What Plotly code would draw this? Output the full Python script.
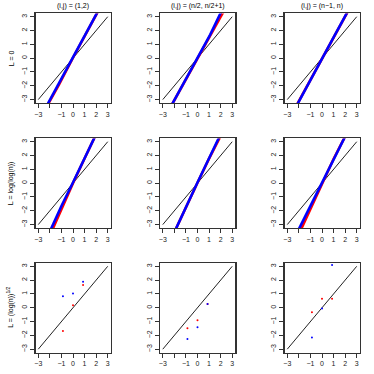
import plotly.graph_objects as go

# ---------------- data ----------------
col_titles = ["(i,j) = (1,2)", "(i,j) = (n/2, n/2+1)", "(i,j) = (n\u22121, n)"]
row_titles = ["L = 0", "L = log(log(n))", "L = (log(n))<sup>1/2</sup>"]

x_tick_vals = [-3, -2, -1, 0, 1, 2, 3]
x_tick_text = ["\u22123", "", "\u22121", "0", "1", "2", "3"]
y_tick_text = ["\u22123", "\u22122", "\u22121", "0", "1", "2", "3"]

ref_x = [-3, 3]
ref_y = [-3, 3]

# Row 1 (L = 0): QQ curves, red drawn below blue
r1c1_red_x = [-2.3, -1.2, 0.0, 1.2, 2.3]
r1c1_red_y = [-3.55, -1.9, 0.03, 1.9, 3.6]
r1c1_blue_x = [-2.3, -1.2, 0.0, 1.2, 2.3]
r1c1_blue_y = [-3.5, -1.8, 0.06, 1.92, 3.62]

r1c2_red_x = [-2.3, -1.1, 0.2, 1.1, 2.3]
r1c2_red_y = [-3.5, -1.7, 0.22, 1.65, 3.45]
r1c2_blue_x = [-2.3, -1.1, 0.2, 1.1, 2.1]
r1c2_blue_y = [-3.5, -1.65, 0.25, 1.7, 3.45]

r1c3_red_x = [-2.2, -1.0, 0.0, 1.0, 2.3]
r1c3_red_y = [-3.42, -1.55, -0.02, 1.48, 3.48]
r1c3_blue_x = [-2.2, -1.0, 0.0, 1.0, 2.3]
r1c3_blue_y = [-3.45, -1.55, 0.0, 1.5, 3.5]

# Row 2 (L = log(log(n)))
r2c1_red_x = [-1.9, -1.0, 0.0, 1.0, 2.0]
r2c1_red_y = [-3.6, -1.85, 0.0, 1.78, 3.55]
r2c1_blue_x = [-2.0, -1.0, 0.0, 1.0, 2.0]
r2c1_blue_y = [-3.5, -1.65, 0.05, 1.8, 3.55]

r2c2_red_x = [-2.0, -1.0, 0.0, 1.0, 2.05]
r2c2_red_y = [-3.55, -1.72, 0.03, 1.78, 3.5]
r2c2_blue_x = [-2.0, -1.0, 0.0, 1.0, 2.0]
r2c2_blue_y = [-3.55, -1.7, 0.05, 1.8, 3.55]

r2c3_red_x = [-1.95, -1.0, 0.0, 1.0, 2.1]
r2c3_red_y = [-3.6, -1.85, 0.0, 1.75, 3.55]
r2c3_blue_x = [-2.1, -1.0, 0.0, 1.0, 2.1]
r2c3_blue_y = [-3.5, -1.65, 0.1, 1.75, 3.55]

# Row 3 (L = (log(n))^{1/2}): few points
r3c1_red_x = [-0.87, 0.0, 0.87]
r3c1_red_y = [-1.68, 0.18, 1.65]
r3c1_blue_x = [-0.87, 0.0, 0.87]
r3c1_blue_y = [0.83, 1.03, 1.89]

r3c2_red_x = [-0.87, 0.0, 0.87]
r3c2_red_y = [-1.48, -0.9, 0.27]
r3c2_blue_x = [-0.87, 0.0, 0.87]
r3c2_blue_y = [-2.26, -1.41, 0.27]

r3c3_red_x = [-0.87, 0.0, 0.87]
r3c3_red_y = [-0.33, 0.66, 0.66]
r3c3_blue_x = [-0.87, 0.0, 0.87]
r3c3_blue_y = [-2.16, -0.06, 3.09]

panels = [
    [(r1c1_red_x, r1c1_red_y, r1c1_blue_x, r1c1_blue_y),
     (r1c2_red_x, r1c2_red_y, r1c2_blue_x, r1c2_blue_y),
     (r1c3_red_x, r1c3_red_y, r1c3_blue_x, r1c3_blue_y)],
    [(r2c1_red_x, r2c1_red_y, r2c1_blue_x, r2c1_blue_y),
     (r2c2_red_x, r2c2_red_y, r2c2_blue_x, r2c2_blue_y),
     (r2c3_red_x, r2c3_red_y, r2c3_blue_x, r2c3_blue_y)],
    [(r3c1_red_x, r3c1_red_y, r3c1_blue_x, r3c1_blue_y),
     (r3c2_red_x, r3c2_red_y, r3c2_blue_x, r3c2_blue_y),
     (r3c3_red_x, r3c3_red_y, r3c3_blue_x, r3c3_blue_y)],
]

# ---------------- layout geometry ----------------
W = H = 374
col_left = [35.5, 160.0, 284.5]
pw = 75.0
row_top = [13.4, 138.4, 263.0]
ph = 89.5
rng = [-3.24, 3.24]
FONT = "Liberation Sans, Arial, sans-serif"
AX = "#333333"
TXT = "#000000"

fig = go.Figure()
layout = dict(
    width=W, height=H, autosize=False,
    margin=dict(l=0, r=0, t=0, b=0),
    paper_bgcolor="white", plot_bgcolor="white",
    showlegend=False, hovermode=False,
    font=dict(family=FONT, size=7, color=TXT),
)
annotations = []

k = 0
for r in range(3):
    for c in range(3):
        k += 1
        xa = "x" if k == 1 else f"x{k}"
        ya = "y" if k == 1 else f"y{k}"
        xd = [col_left[c] / W, (col_left[c] + pw) / W]
        yd = [1 - (row_top[r] + ph) / H, 1 - row_top[r] / H]
        common = dict(range=rng, showgrid=False, zeroline=False,
                      showline=True, mirror=True, linecolor=AX, linewidth=1.5,
                      ticks="outside", ticklen=4, tickwidth=1, tickcolor=AX,
                      tickfont=dict(size=7, color="#222222", family=FONT),
                      tickvals=x_tick_vals, fixedrange=True)
        layout["xaxis" if k == 1 else f"xaxis{k}"] = dict(
            common, domain=xd, anchor=ya, ticktext=x_tick_text, tickangle=0)
        layout["yaxis" if k == 1 else f"yaxis{k}"] = dict(
            common, domain=yd, anchor=xa, ticktext=y_tick_text, tickangle=-90)

        rx, ry, bx, by = panels[r][c]
        fig.add_trace(go.Scatter(x=ref_x, y=ref_y, mode="lines",
                                 line=dict(color="#222222", width=1),
                                 xaxis=xa, yaxis=ya))
        if r < 2:
            fig.add_trace(go.Scatter(x=rx, y=ry, mode="lines",
                                     line=dict(color="#FF0000", width=2.6),
                                     xaxis=xa, yaxis=ya))
            fig.add_trace(go.Scatter(x=bx, y=by, mode="lines",
                                     line=dict(color="#0000FF", width=2.6),
                                     xaxis=xa, yaxis=ya))
        else:
            fig.add_trace(go.Scatter(x=rx, y=ry, mode="markers",
                                     marker=dict(color="#FF0000", size=2),
                                     xaxis=xa, yaxis=ya, cliponaxis=True))
            fig.add_trace(go.Scatter(x=bx, y=by, mode="markers",
                                     marker=dict(color="#0000FF", size=2),
                                     xaxis=xa, yaxis=ya, cliponaxis=True))

for c in range(3):
    annotations.append(dict(text=col_titles[c], xref="paper", yref="paper",
                            x=(col_left[c] + pw / 2) / W, y=1 - 6 / H,
                            xanchor="center", yanchor="middle", showarrow=False,
                            font=dict(size=7, color=TXT, family=FONT)))
for r in range(3):
    annotations.append(dict(text=row_titles[r], xref="paper", yref="paper",
                            x=11 / W, y=1 - (row_top[r] + ph / 2) / H,
                            xanchor="center", yanchor="middle", showarrow=False,
                            textangle=-90,
                            font=dict(size=7, color=TXT, family=FONT)))
layout["annotations"] = annotations
fig.update_layout(**layout)
fig.write_html("out.html",
               config={"displayModeBar": False, "staticPlot": True},
               post_script="document.body.style.margin='0';document.body.style.padding='0';")
